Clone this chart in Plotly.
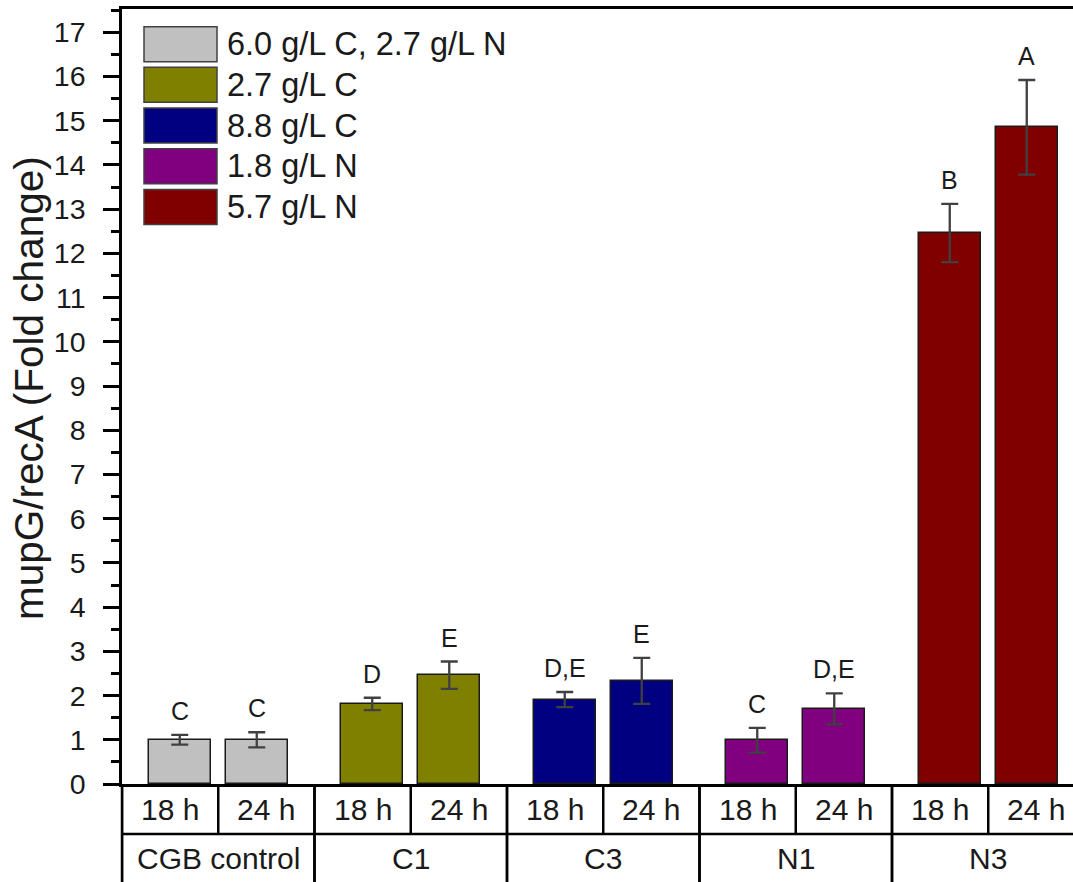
import plotly.graph_objects as go

# Culture conditions (x groups) and sampling times
groups = ["CGB control", "C1", "C3", "N1", "N3"]
times = ["18 h", "24 h"]

# mupG/recA fold change, mean and error per group at each time
fold_18h = [1.00, 1.81, 1.91, 0.99, 12.46]
fold_24h = [1.00, 2.46, 2.33, 1.70, 14.85]
err_18h = [0.11, 0.14, 0.17, 0.28, 0.66]
err_24h = [0.17, 0.31, 0.52, 0.35, 1.07]

# Statistical grouping letters
letters_18h = ["C", "D", "D,E", "C", "B"]
letters_24h = ["C", "E", "E", "D,E", "A"]

# Legend entries (one per group) and bar colours
legend_labels = ["6.0 g/L C, 2.7 g/L N", "2.7 g/L C", "8.8 g/L C", "1.8 g/L N", "5.7 g/L N"]
colors = ["#C0C0C0", "#808000", "#000080", "#800080", "#800000"]

FONT = "Arial, Liberation Sans, sans-serif"
W, H = 1073, 882
ML, MR, MT, MB = 122, 0, 9, 98
plot_w = W - ML - MR
plot_h = H - MT - MB
group_px = 192.5                      # pixel width of one group cell
x_lo = -0.5
x_hi = x_lo + plot_w / group_px
y_top = 17.525
offset = 0.2                          # bar centre offset from group centre
bar_w = 0.322

xs, ys, es, cols, labs = [], [], [], [], []
for gi in range(len(groups)):
    for off, v, e, lab in ((-offset, fold_18h[gi], err_18h[gi], letters_18h[gi]),
                           (offset, fold_24h[gi], err_24h[gi], letters_24h[gi])):
        xs.append(gi + off)
        ys.append(v)
        es.append(e)
        cols.append(colors[gi])
        labs.append(lab)

fig = go.Figure()
fig.add_trace(go.Bar(
    x=xs, y=ys, width=bar_w,
    marker=dict(color=cols, line=dict(color="#1a1a1a", width=1.5)),
    error_y=dict(type="data", array=es, visible=True, color="#404040",
                 thickness=2.3, width=8.5),
    showlegend=False, hoverinfo="skip",
))

annotations = []
# letters above error bars
for x, v, e, lab in zip(xs, ys, es, labs):
    annotations.append(dict(x=x, y=v + e, xref="x", yref="y", text=lab,
                            showarrow=False, yanchor="bottom", yshift=8,
                            font=dict(family=FONT, size=25, color="#1a1a1a")))

shapes = []
LINE = dict(color="black", width=2.5)
# two-row category table below the axis
row1_bottom = -50 / plot_h
row_bottom = -MB / plot_h
row1_mid = -25 / plot_h
row2_mid = -74 / plot_h
shapes.append(dict(type="line", xref="paper", yref="paper", x0=0, x1=1,
                   y0=row1_bottom, y1=row1_bottom, line=LINE))
shapes.append(dict(type="line", xref="paper", yref="paper", x0=0, x1=0,
                   y0=0, y1=row_bottom - 0.01, line=LINE))
for gi, g in enumerate(groups):
    for bound in (gi - 0.5, gi + 0.5):
        shapes.append(dict(type="line", xref="x", yref="paper", x0=bound, x1=bound,
                           y0=0, y1=row_bottom - 0.01, line=LINE))
    shapes.append(dict(type="line", xref="x", yref="paper", x0=gi, x1=gi,
                       y0=0, y1=row1_bottom, line=LINE))
    for ti, t in enumerate(times):
        annotations.append(dict(x=gi - 0.25 + 0.5 * ti, y=row1_mid, xref="x", yref="paper",
                                text=t, showarrow=False, yanchor="middle",
                                font=dict(family=FONT, size=30, color="#1a1a1a")))
    annotations.append(dict(x=gi, y=row2_mid, xref="x", yref="paper", text=g,
                            showarrow=False, yanchor="middle",
                            font=dict(family=FONT, size=30, color="#1a1a1a")))

# legend drawn as large swatches with labels
sw_x0 = (144 - ML) / plot_w
sw_x1 = (217 - ML) / plot_w
row_step = 40.67
for i, (lab, c) in enumerate(zip(legend_labels, colors)):
    top_px = 26.7 + i * row_step
    y0 = (MT + plot_h - top_px) / plot_h
    y1 = (MT + plot_h - top_px - 35) / plot_h
    shapes.append(dict(type="rect", xref="paper", yref="paper", x0=sw_x0, x1=sw_x1,
                       y0=y1, y1=y0, fillcolor=c, line=dict(color="#404040", width=1.5)))
    annotations.append(dict(x=(225 - ML) / plot_w, y=(y0 + y1) / 2, xref="paper", yref="paper",
                            text=lab, showarrow=False, xanchor="left", yanchor="middle",
                            font=dict(family=FONT, size=32.5, color="#1a1a1a")))

# y-axis title placed beside the tick labels
annotations.append(dict(x=0, y=(MT + plot_h - 388) / plot_h, xref="paper", yref="paper",
                        xshift=-ML + 29, text="mupG/recA (Fold change)", textangle=-90,
                        showarrow=False, xanchor="center", yanchor="middle",
                        font=dict(family=FONT, size=40.5, color="#1a1a1a")))

fig.update_layout(
    width=W, height=H,
    margin=dict(l=ML, r=MR, t=MT, b=MB, pad=0),
    paper_bgcolor="white", plot_bgcolor="white",
    font=dict(family=FONT, color="#1a1a1a"),
    shapes=shapes, annotations=annotations,
    xaxis=dict(range=[x_lo, x_hi], showticklabels=False, ticks="", showgrid=False,
               zeroline=False, showline=True, linecolor="black", linewidth=2.5, mirror=True),
    yaxis=dict(range=[0, y_top], tickmode="linear", tick0=0, dtick=1,
               ticks="outside", ticklen=16, tickwidth=2.5, tickcolor="black",
               minor=dict(dtick=0.5, ticks="outside", ticklen=8, tickwidth=2.5, tickcolor="black"),
               showgrid=False, zeroline=False, showline=True, linecolor="black", linewidth=2.5,
               ticklabelstandoff=12,
               tickfont=dict(family=FONT, size=28.5, color="#1a1a1a")),
    bargap=0,
)

fig.write_html("out.html")
